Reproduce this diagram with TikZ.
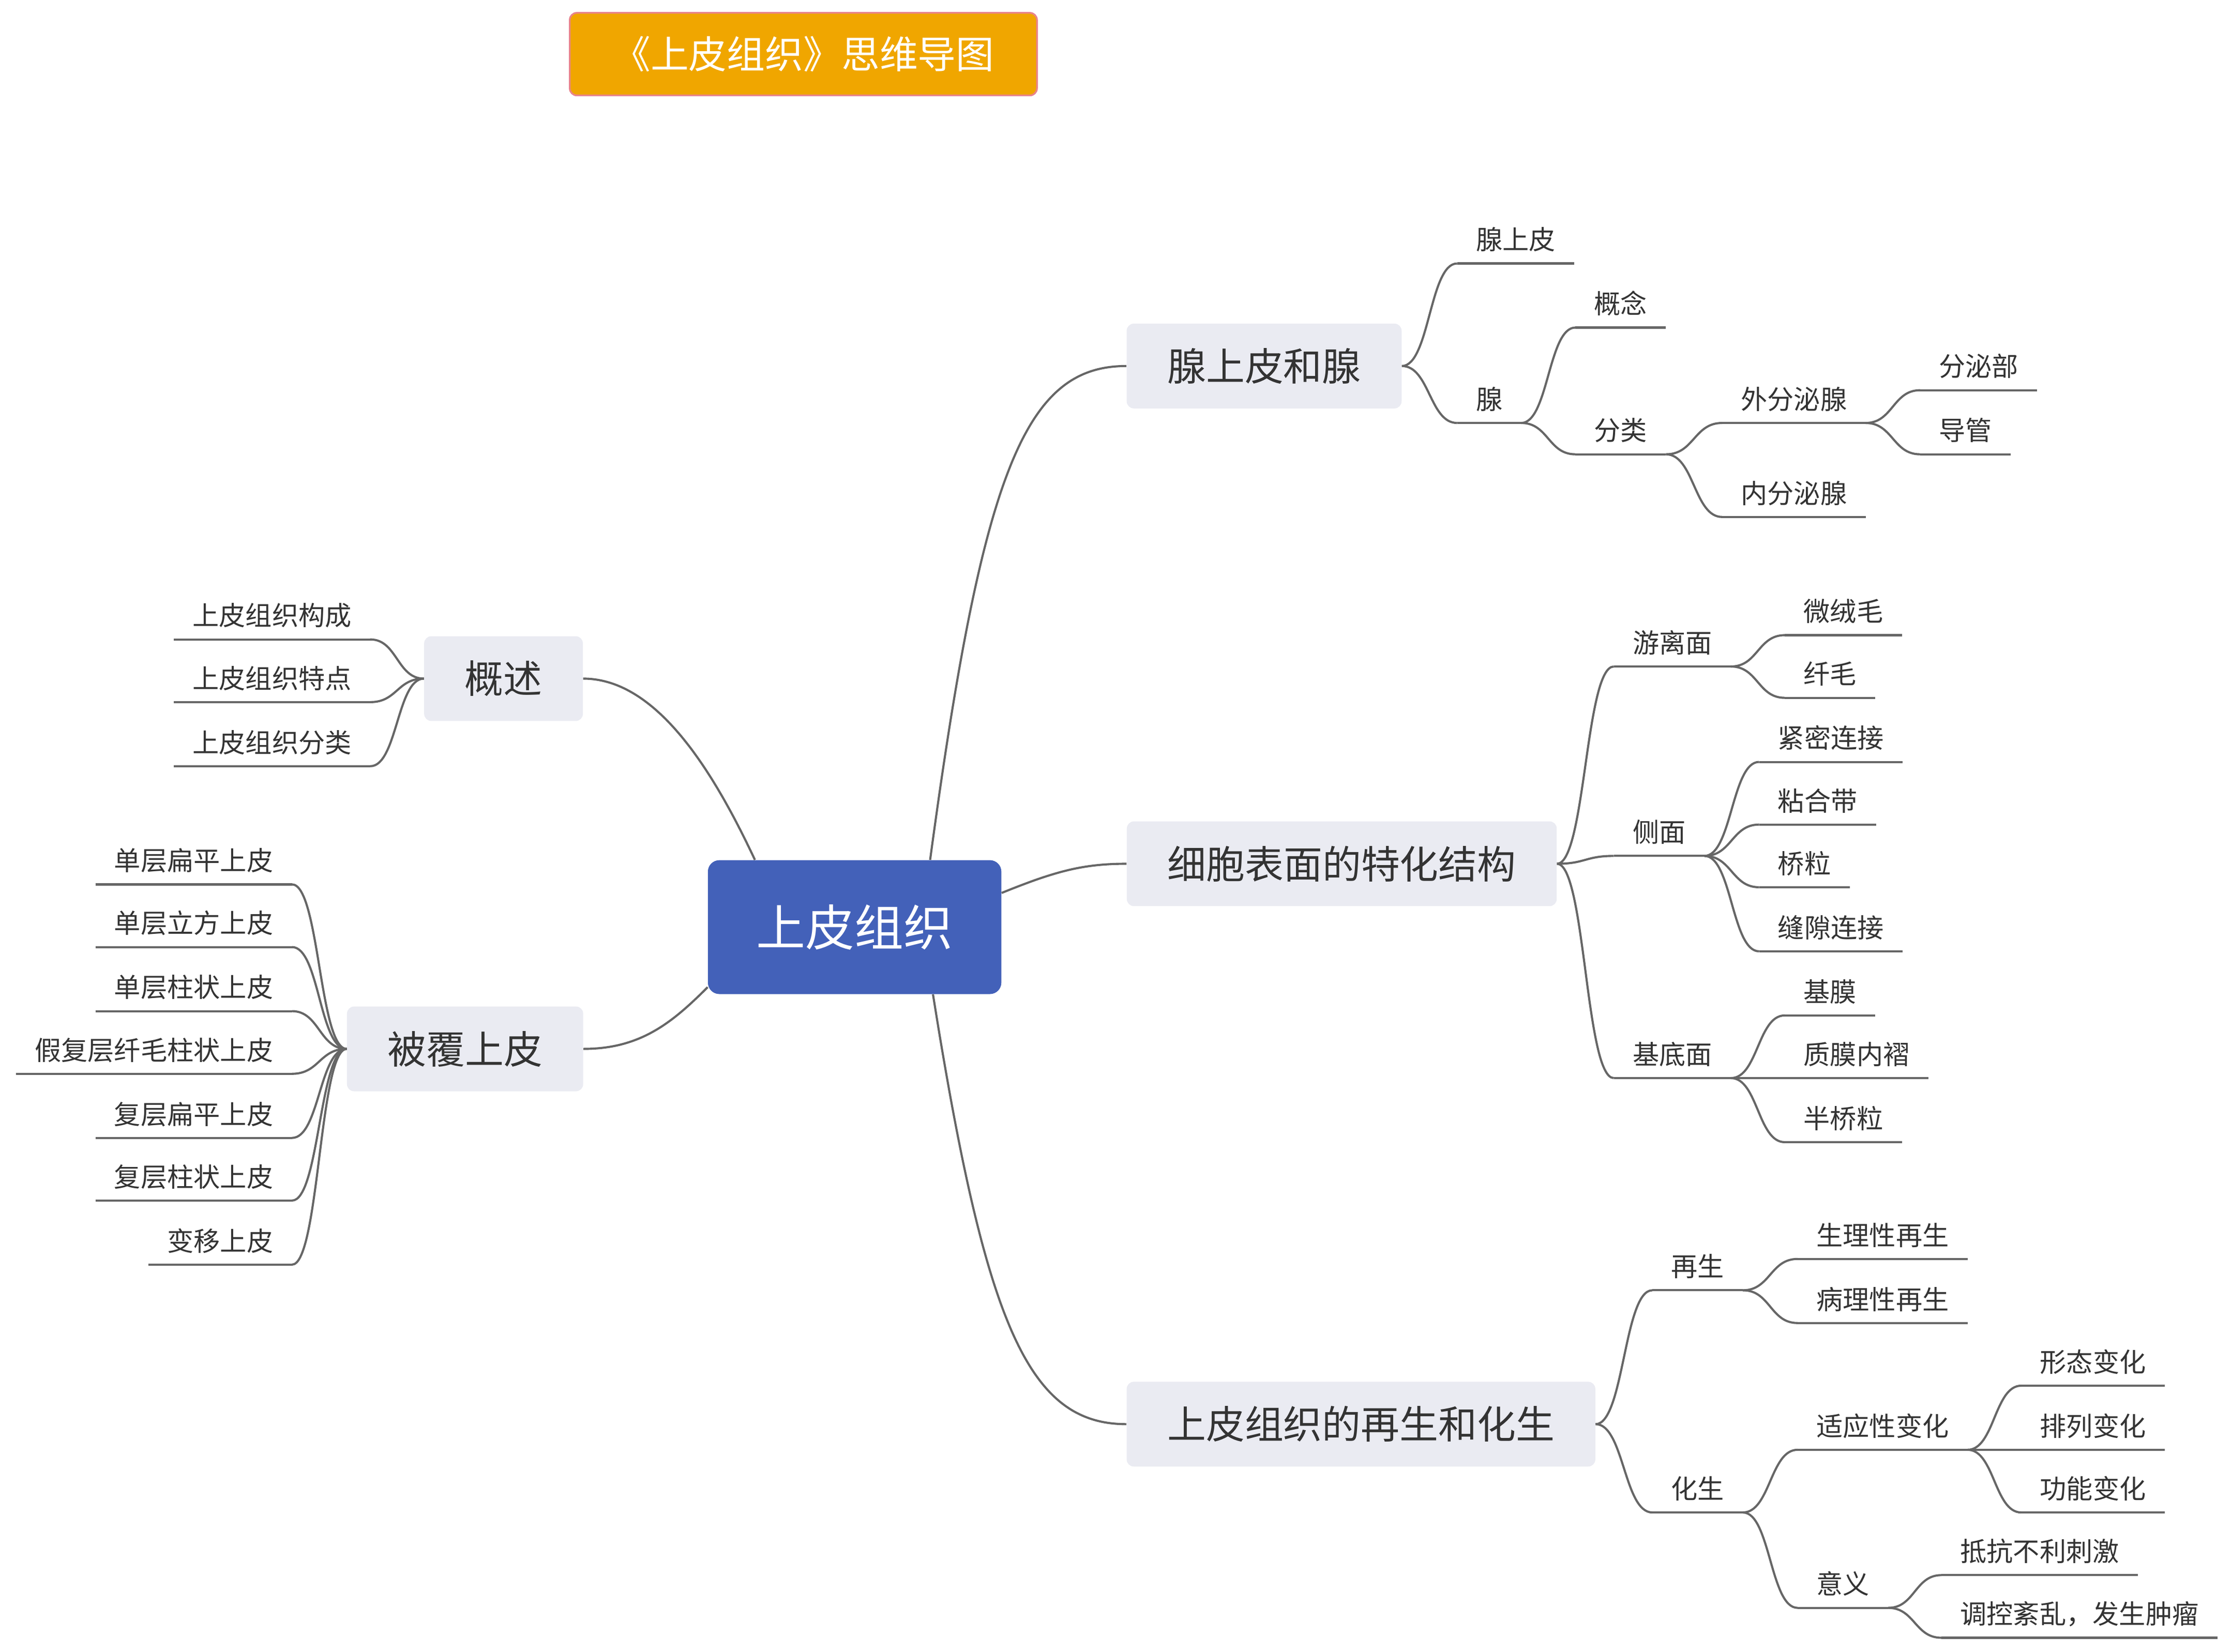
\documentclass[tikz,border=0pt]{standalone}
\usepackage{fontspec}
\newfontfamily\cjk{Noto Sans CJK SC}
\usetikzlibrary{calc}
\definecolor{txt}{RGB}{51,51,51}
\definecolor{linec}{RGB}{102,102,102}
\definecolor{lvl}{RGB}{234,235,242}
\definecolor{cen}{RGB}{67,97,185}
\definecolor{ttl}{RGB}{240,166,0}
\definecolor{ttlb}{RGB}{232,132,140}
\newcommand\mmlink[2]{\draw[conn] let \p1=(#1), \p2=(#2) in (\p1) .. controls ({(\x1+\x2)/2},\y1) and ({(\x1+\x2)/2},\y2) .. (\p2);}
\tikzset{
  conn/.style={draw=linec, line width=1.5pt},
  titlebox/.style={fill=ttl, draw=ttlb, line width=1.2pt, rounded corners=5pt, text=white,
    font=\cjk\fontsize{26.8}{26.8}\selectfont, minimum width=328pt, minimum height=58pt, inner sep=0pt},
  rootbox/.style={fill=cen, rounded corners=8pt, text=white,
    font=\cjk\fontsize{34.5}{34.5}\selectfont, minimum width=206pt, minimum height=94pt, inner sep=0pt},
  lone/.style={fill=lvl, rounded corners=5pt, text=txt,
    font=\cjk\fontsize{27.2}{27.2}\selectfont, inner xsep=28.5pt, inner ysep=0pt, minimum height=59.5pt},
  leaf/.style={text=txt, font=\cjk\fontsize{18.6}{18.6}\selectfont, inner xsep=13pt, inner ysep=9.5pt, text depth=0pt},
  leafr/.style={leaf, anchor=south west},
  leafl/.style={leaf, anchor=south east}
}
\begin{document}
\begin{tikzpicture}[x=1pt,y=-1pt]
\useasboundingbox[fill=white] (0,0) rectangle (1567,1159.65);

% title and main nodes
\node[titlebox] (T) at (564,38) {《上皮组织》思维导图};
\node[rootbox] (R) at (600,651) {上皮组织};
\node[lone] (A) at (887.5,257) {腺上皮和腺};
\node[lone] (B) at (942,606.5) {细胞表面的特化结构};
\node[lone] (C) at (955.5,1000) {上皮组织的再生和化生};
\node[lone] (D) at (353.5,476.5) {概述};
\node[lone] (E) at (326.5,736.5) {被覆上皮};

% branch A
\node[leafr] (a1) at (1023,185) {腺上皮};
\node[leafr] (a2) at (1023,297) {腺};
\node[leafr] (a21) at (1106,230) {概念};
\node[leafr] (a22) at (1106,319) {分类};
\node[leafr] (a221) at (1209,297) {外分泌腺};
\node[leafr] (a222) at (1209,363) {内分泌腺};
\node[leafr] (a2211) at (1348,274) {分泌部};
\node[leafr] (a2212) at (1348,319) {导管};

% branch B
\node[leafr] (b1) at (1133,468) {游离面};
\node[leafr] (b11) at (1253,446) {微绒毛};
\node[leafr] (b12) at (1253,490) {纤毛};
\node[leafr] (b2) at (1133,601) {侧面};
\node[leafr] (b21) at (1235,535) {紧密连接};
\node[leafr] (b22) at (1235,579) {粘合带};
\node[leafr] (b23) at (1235,623) {桥粒};
\node[leafr] (b24) at (1235,668) {缝隙连接};
\node[leafr] (b3) at (1133,757) {基底面};
\node[leafr] (b31) at (1253,713) {基膜};
\node[leafr] (b32) at (1253,757) {质膜内褶};
\node[leafr] (b33) at (1253,802) {半桥粒};

% branch C
\node[leafr] (c1) at (1160,906) {再生};
\node[leafr] (c11) at (1262,884) {生理性再生};
\node[leafr] (c12) at (1262,929) {病理性再生};
\node[leafr] (c2) at (1160,1062) {化生};
\node[leafr] (c21) at (1262,1018) {适应性变化};
\node[leafr] (c211) at (1419,973) {形态变化};
\node[leafr] (c212) at (1419,1018) {排列变化};
\node[leafr] (c213) at (1419,1062) {功能变化};
\node[leafr] (c22) at (1262,1129) {意义};
\node[leafr] (c221) at (1363,1106) {抵抗不利刺激};
\node[leafr] (c222) at (1363,1150) {调控紊乱，发生肿瘤};

% branch D
\node[leafl] (d1) at (260,449) {上皮组织构成};
\node[leafl] (d2) at (260,493) {上皮组织特点};
\node[leafl] (d3) at (260,538) {上皮组织分类};

% branch E
\node[leafl] (e1) at (205,621) {单层扁平上皮};
\node[leafl] (e2) at (205,665) {单层立方上皮};
\node[leafl] (e3) at (205,710) {单层柱状上皮};
\node[leafl] (e4) at (205,754) {假复层纤毛柱状上皮};
\node[leafl] (e5) at (205,799) {复层扁平上皮};
\node[leafl] (e6) at (205,843) {复层柱状上皮};
\node[leafl] (e7) at (205,888) {变移上皮};

% root connectors
\draw[conn] ($(R.north)+(53,0)$) .. controls +(37,-274) and +(-71,0) .. (A.west);
\draw[conn] ($(R.east)+(0,-24)$) .. controls +(37,-15) and +(-31,0) .. (B.west);
\draw[conn] ($(R.south)+(55,0)$) .. controls +(37,232) and +(-69,0) .. (C.west);
\draw[conn] ($(R.north)+(-70,0)$) .. controls +(-30,-64) and +(51,0) .. (D.east);
\draw[conn] ($(R.south west)+(0,-5)$) .. controls +(-25,25) and +(40,0) .. (E.east);

% underlines
\foreach \n in {a1,a2,a21,a22,a221,a222,a2211,a2212,
  b1,b11,b12,b2,b21,b22,b23,b24,b3,b31,b32,b33,
  c1,c11,c12,c2,c21,c211,c212,c213,c22,c221,c222,
  d1,d2,d3,e1,e2,e3,e4,e5,e6,e7}
  \draw[conn] (\n.south west) -- (\n.south east);

% branch links
\mmlink{A.east}{a1.south west}
\mmlink{A.east}{a2.south west}
\mmlink{a2.south east}{a21.south west}
\mmlink{a2.south east}{a22.south west}
\mmlink{a22.south east}{a221.south west}
\mmlink{a22.south east}{a222.south west}
\mmlink{a221.south east}{a2211.south west}
\mmlink{a221.south east}{a2212.south west}

\mmlink{B.east}{b1.south west}
\mmlink{B.east}{b2.south west}
\mmlink{B.east}{b3.south west}
\mmlink{b1.south east}{b11.south west}
\mmlink{b1.south east}{b12.south west}
\mmlink{b2.south east}{b21.south west}
\mmlink{b2.south east}{b22.south west}
\mmlink{b2.south east}{b23.south west}
\mmlink{b2.south east}{b24.south west}
\mmlink{b3.south east}{b31.south west}
\mmlink{b3.south east}{b32.south west}
\mmlink{b3.south east}{b33.south west}

\mmlink{C.east}{c1.south west}
\mmlink{C.east}{c2.south west}
\mmlink{c1.south east}{c11.south west}
\mmlink{c1.south east}{c12.south west}
\mmlink{c2.south east}{c21.south west}
\mmlink{c2.south east}{c22.south west}
\mmlink{c21.south east}{c211.south west}
\mmlink{c21.south east}{c212.south west}
\mmlink{c21.south east}{c213.south west}
\mmlink{c22.south east}{c221.south west}
\mmlink{c22.south east}{c222.south west}

\mmlink{D.west}{d1.south east}
\mmlink{D.west}{d2.south east}
\mmlink{D.west}{d3.south east}

\mmlink{E.west}{e1.south east}
\mmlink{E.west}{e2.south east}
\mmlink{E.west}{e3.south east}
\mmlink{E.west}{e4.south east}
\mmlink{E.west}{e5.south east}
\mmlink{E.west}{e6.south east}
\mmlink{E.west}{e7.south east}
\end{tikzpicture}
\end{document}
